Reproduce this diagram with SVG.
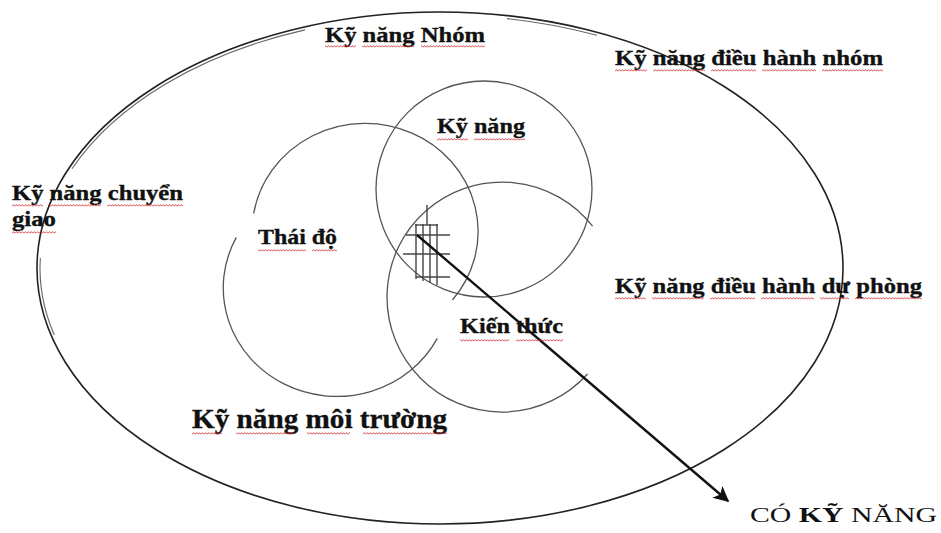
<svg xmlns="http://www.w3.org/2000/svg" width="941" height="533" viewBox="0 0 941 533">
<style>
.lbl{font-family:"Liberation Serif","Times New Roman",serif;font-weight:bold;font-size:22px;fill:#111;stroke:#111;stroke-width:0.35}
.big{font-size:27px}
.reg{font-family:"Liberation Serif","Times New Roman",serif;font-weight:normal;font-size:22px;fill:#111}
.ring{fill:none;stroke:#555;stroke-width:1.3}
.outer{fill:none;stroke:#222;stroke-width:1.6}
.dbl{fill:none;stroke:#666;stroke-width:1.1}
.hatch{stroke:#444;stroke-width:1.4;fill:none}
.sq{fill:url(#wave)}
</style>
<defs>
<pattern id="wave" width="3" height="3" patternUnits="userSpaceOnUse">
<path d="M0,2.4 L1.5,0.6 L3,2.4" fill="none" stroke="#d42a2a" stroke-width="0.8"/>
</pattern>
<marker id="ah" viewBox="0 0 10 10" refX="9" refY="5" markerWidth="7.5" markerHeight="6.5" markerUnits="strokeWidth" orient="auto">
<path d="M0,0 L10,5 L0,10 L2.5,5 Z" fill="#111"/>
</marker>
</defs>
<rect width="941" height="533" fill="#fff"/>

<g id="outer-ellipse">
<ellipse class="outer" cx="440" cy="268" rx="403" ry="256"/>
<path class="dbl" d="M72,168.8 A400,253 0 0 1 305,29.9"/>
<path class="dbl" d="M507,18.6 A400,253 0 0 1 597,35.3"/>
<path class="dbl" d="M40.3,258 A400,253 0 0 0 54.3,335"/>
</g>

<g id="circle-kynang">
<circle class="ring" cx="484" cy="189" r="108"/>
</g>

<g id="circle-thaido">
<path class="ring" d="M437.3,338.4 A113,108 0 0 1 236.3,237.4"/>
<path class="ring" d="M253.7,213.3 A113,108 0 1 1 452.4,300"/>
</g>

<g id="circle-kienthuc">
<path class="ring" d="M592.6,226.2 A115,115 0 1 0 587.5,374"/>
</g>

<g id="hatch">
<line class="hatch" x1="427" y1="205" x2="427" y2="225"/>
<line class="hatch" x1="416" y1="224" x2="416" y2="279"/>
<line class="hatch" x1="423" y1="224" x2="423" y2="281"/>
<line class="hatch" x1="430" y1="224" x2="430" y2="283"/>
<line class="hatch" x1="437" y1="224" x2="437" y2="285"/>
<line class="hatch" x1="415" y1="225" x2="438" y2="225"/>
<line class="hatch" x1="406" y1="235" x2="450" y2="235"/>
<line class="hatch" x1="403" y1="254" x2="450" y2="254"/>
<line class="hatch" x1="416" y1="277" x2="450" y2="277"/>
</g>

<g id="connectors">
<line x1="417" y1="235" x2="728" y2="501" stroke="#111" stroke-width="2.4" marker-end="url(#ah)"/>
</g>

<g id="label-kynang-nhom">
<text class="lbl" x="325" y="42" textLength="160" lengthAdjust="spacingAndGlyphs">Kỹ năng Nhóm</text>
<rect class="sq" x="325" y="45" width="31" height="3"/><rect class="sq" x="362" y="45" width="52" height="3"/><rect class="sq" x="421" y="45" width="64" height="3"/>
</g>

<g id="label-dieu-hanh-nhom">
<text class="lbl" x="615" y="65" textLength="268" lengthAdjust="spacingAndGlyphs">Kỹ năng điều hành nhóm</text>
<rect class="sq" x="615" y="69" width="32" height="3"/><rect class="sq" x="653" y="69" width="52" height="3"/><rect class="sq" x="711" y="69" width="45" height="3"/><rect class="sq" x="762" y="69" width="54" height="3"/><rect class="sq" x="822" y="69" width="61" height="3"/>
</g>

<g id="label-kynang">
<text class="lbl" x="437" y="133" textLength="88" lengthAdjust="spacingAndGlyphs">Kỹ năng</text>
<rect class="sq" x="437" y="138" width="31" height="3"/><rect class="sq" x="474" y="138" width="51" height="3"/>
</g>

<g id="label-chuyen-giao">
<text class="lbl" x="12" y="200" textLength="171" lengthAdjust="spacingAndGlyphs">Kỹ năng chuyển</text>
<text class="lbl" x="12" y="226" textLength="44" lengthAdjust="spacingAndGlyphs">giao</text>
<rect class="sq" x="12" y="204" width="31" height="3"/><rect class="sq" x="49" y="204" width="52" height="3"/><rect class="sq" x="107" y="204" width="76" height="3"/>
<rect class="sq" x="12" y="231" width="44" height="3"/>
</g>

<g id="label-thaido">
<text class="lbl" x="258" y="244" textLength="79" lengthAdjust="spacingAndGlyphs">Thái độ</text>
<rect class="sq" x="258" y="249" width="48" height="3"/><rect class="sq" x="312" y="249" width="25" height="3"/>
</g>

<g id="label-kienthuc">
<text class="lbl" x="460" y="333" textLength="103" lengthAdjust="spacingAndGlyphs">Kiến thức</text>
<rect class="sq" x="460" y="339" width="49" height="3"/><rect class="sq" x="516" y="339" width="47" height="3"/>
</g>

<g id="label-du-phong">
<text class="lbl" x="615" y="293" textLength="307" lengthAdjust="spacingAndGlyphs">Kỹ năng điều hành dự phòng</text>
<rect class="sq" x="615" y="297" width="31" height="3"/><rect class="sq" x="652" y="297" width="52" height="3"/><rect class="sq" x="710" y="297" width="45" height="3"/><rect class="sq" x="761" y="297" width="53" height="3"/><rect class="sq" x="820" y="297" width="29" height="3"/><rect class="sq" x="855" y="297" width="67" height="3"/>
</g>

<g id="label-moi-truong">
<text class="lbl big" x="192" y="428" textLength="255" lengthAdjust="spacingAndGlyphs">Kỹ năng môi trường</text>
<rect class="sq" x="192" y="432" width="30" height="3"/><rect class="sq" x="236" y="432" width="59" height="3"/><rect class="sq" x="307" y="432" width="43" height="3"/><rect class="sq" x="363" y="432" width="84" height="3"/>
</g>

<g id="label-co-ky-nang">
<text class="reg" x="750" y="522" textLength="187" lengthAdjust="spacingAndGlyphs">CÓ <tspan font-weight="bold">KỸ</tspan>  NĂNG</text>
</g>
</svg>
